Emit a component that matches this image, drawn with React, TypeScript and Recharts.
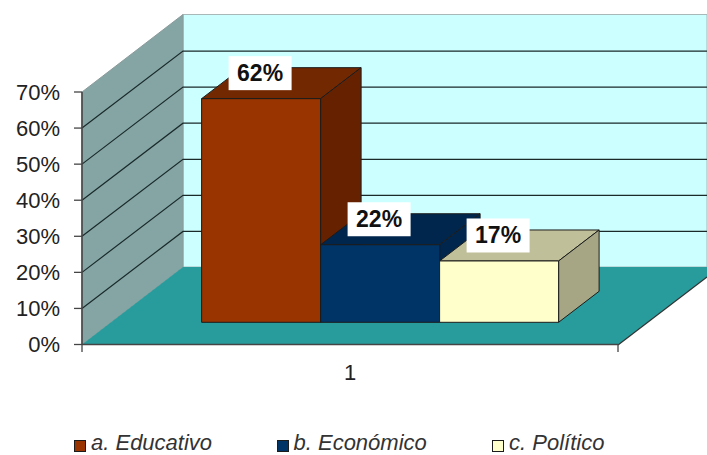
import { BarChart, Bar, XAxis, YAxis, CartesianGrid, Legend, LabelList } from "recharts";

const categories = ["1"];
const seriesNames = ["a. Educativo", "b. Económico", "c. Político"];
const educativo = [62];
const economico = [21.5];
const politico = [17];
const yTicks = [0, 10, 20, 30, 40, 50, 60, 70];

const data = categories.map((name, i) => ({
  name,
  a: educativo[i],
  b: economico[i],
  c: politico[i],
}));

const WIDTH = 707;
const HEIGHT = 455;
const FONT = "'Liberation Sans', Arial, sans-serif";
const TEXT = "#222222";
const AXIS = "#454545";

// 3d offsets: wall depth, where the bars stand on the floor, bar depth
const WALL_X = 101;
const WALL_Y = -77;
const BAR_OFF_X = 30.6;
const BAR_OFF_Y = -22.2;
const BAR_DX = 40.5;
const BAR_DY = -31;

const FACES = {
  a: { front: "#993300", top: "#722800", side: "#662200" },
  b: { front: "#003366", top: "#00264d", side: "#00264d" },
  c: { front: "#ffffcc", top: "#bfbf99", side: "#a6a685" },
};

function box(colors: { front: string; top: string; side: string }) {
  return (props: any) => {
    const x = props.x + BAR_OFF_X;
    const y = props.y + BAR_OFF_Y;
    const w = props.width;
    const h = props.height;
    const pts = (p: number[][]) => p.map((q) => q.join(",")).join(" ");
    return (
      <g stroke="#1c1c1c" strokeWidth={1} strokeLinejoin="round">
        <polygon
          fill={colors.top}
          points={pts([[x, y], [x + BAR_DX, y + BAR_DY], [x + w + BAR_DX, y + BAR_DY], [x + w, y]])}
        />
        <polygon
          fill={colors.side}
          points={pts([[x + w, y], [x + w + BAR_DX, y + BAR_DY], [x + w + BAR_DX, y + h + BAR_DY], [x + w, y + h]])}
        />
        <rect x={x} y={y} width={w} height={h} fill={colors.front} />
      </g>
    );
  };
}

const valueLabel = (props: any) => {
  const cx = props.x + props.width / 2 + BAR_OFF_X - 1;
  const cy = props.y + BAR_OFF_Y - 25.5;
  return (
    <g>
      <rect x={cx - 31.5} y={cy - 17} width={63} height={34} fill="#ffffff" />
      <text
        x={cx}
        y={cy + 8}
        textAnchor="middle"
        fontFamily={FONT}
        fontWeight="bold"
        fontSize={23}
        fill="#111111"
      >
        {`${Math.round(props.value)}%`}
      </text>
    </g>
  );
};

// wall part of each gridline, then along the back wall
const gridLine = (props: any) => {
  const { x1, y1, index } = props;
  if (y1 < 95 || y1 > 340) return <g key={`g-${index}`} />;
  return (
    <polyline
      key={`g-${index}`}
      points={`${x1},${y1} ${x1 + WALL_X},${y1 + WALL_Y} ${WIDTH + 5},${y1 + WALL_Y}`}
      fill="none"
      stroke="#1a2a2a"
      strokeWidth={1.2}
    />
  );
};

const xTick = (props: any) => {
  const { x, y, payload } = props;
  return (
    <g>
      <line x1={82} y1={344} x2={82} y2={352} stroke={AXIS} strokeWidth={1.3} />
      <line x1={618} y1={344} x2={618} y2={352} stroke={AXIS} strokeWidth={1.3} />
      <text x={x} y={y + 27} textAnchor="middle" fontFamily={FONT} fontSize={22} fill={TEXT}>
        {payload.value}
      </text>
    </g>
  );
};

const LEGEND_X = [74, 276.5, 492];

const legendContent = (props: any) => (
  <div style={{ position: "relative", width: WIDTH, height: 25 }}>
    {props.payload.map((entry: any, i: number) => (
      <div key={entry.value}>
        <span
          style={{
            position: "absolute",
            left: LEGEND_X[i],
            top: 10,
            width: 10,
            height: 10,
            background: entry.color,
            border: "1.5px solid #1c1c1c",
          }}
        />
        <span
          style={{
            position: "absolute",
            left: LEGEND_X[i] + 17,
            top: 0.5,
            fontFamily: FONT,
            fontStyle: "italic",
            fontSize: 22,
            lineHeight: "24px",
            color: "#333333",
            whiteSpace: "nowrap",
          }}
        >
          {entry.value}
        </span>
      </div>
    ))}
  </div>
);

export default function App() {
  return (
    <div style={{ position: "absolute", left: 0, top: 0, width: WIDTH, height: HEIGHT, overflow: "hidden" }}>
      {/* walls and floor sit behind the chart's transparent svg */}
      <svg width={WIDTH} height={HEIGHT} style={{ position: "absolute", left: 0, top: 0 }}>
        <polygon points="183,14.5 707,14.5 707,267 183,267" fill="#ccffff" stroke="#a8b8b8" strokeWidth={1} />
        <polygon points="82,92 183,14.5 183,267 82,344.5" fill="#85a5a5" stroke="#8a9a9a" strokeWidth={1} />
        <polygon points="82,344.5 183,267 707,267 707,277 618,345" fill="#289c9c" />
        <line x1={618} y1={345} x2={707} y2={277} stroke="#333333" strokeWidth={1.2} />
      </svg>
      <div style={{ position: "absolute", left: 0, top: 0 }}>
        <BarChart
          width={WIDTH}
          height={HEIGHT}
          data={data}
          margin={{ top: 92, right: 89, bottom: 35.5, left: 0 }}
          barCategoryGap={89}
          barGap={0}
        >
          <CartesianGrid vertical={false} horizontal={gridLine} />
          <XAxis
            dataKey="name"
            axisLine={{ stroke: AXIS, strokeWidth: 1.6 }}
            tickLine={false}
            tick={xTick}
            height={50}
            interval={0}
          />
          <YAxis
            domain={[0, 70]}
            ticks={yTicks}
            width={82}
            tickSize={8}
            tickMargin={14}
            tickFormatter={(v: number) => `${v}%`}
            axisLine={{ stroke: AXIS, strokeWidth: 1.6 }}
            tickLine={{ stroke: AXIS, strokeWidth: 1.3 }}
            tick={{ fontFamily: FONT, fontSize: 22, fill: TEXT }}
          />
          <Legend
            verticalAlign="bottom"
            content={legendContent}
            wrapperStyle={{ left: 0, top: 430, width: WIDTH, height: 25 }}
          />
          <Bar dataKey="a" name={seriesNames[0]} fill={FACES.a.front} shape={box(FACES.a)} isAnimationActive={false}>
            <LabelList dataKey="a" content={valueLabel} />
          </Bar>
          <Bar dataKey="b" name={seriesNames[1]} fill={FACES.b.front} shape={box(FACES.b)} isAnimationActive={false}>
            <LabelList dataKey="b" content={valueLabel} />
          </Bar>
          <Bar dataKey="c" name={seriesNames[2]} fill={FACES.c.front} shape={box(FACES.c)} isAnimationActive={false}>
            <LabelList dataKey="c" content={valueLabel} />
          </Bar>
        </BarChart>
      </div>
    </div>
  );
}
